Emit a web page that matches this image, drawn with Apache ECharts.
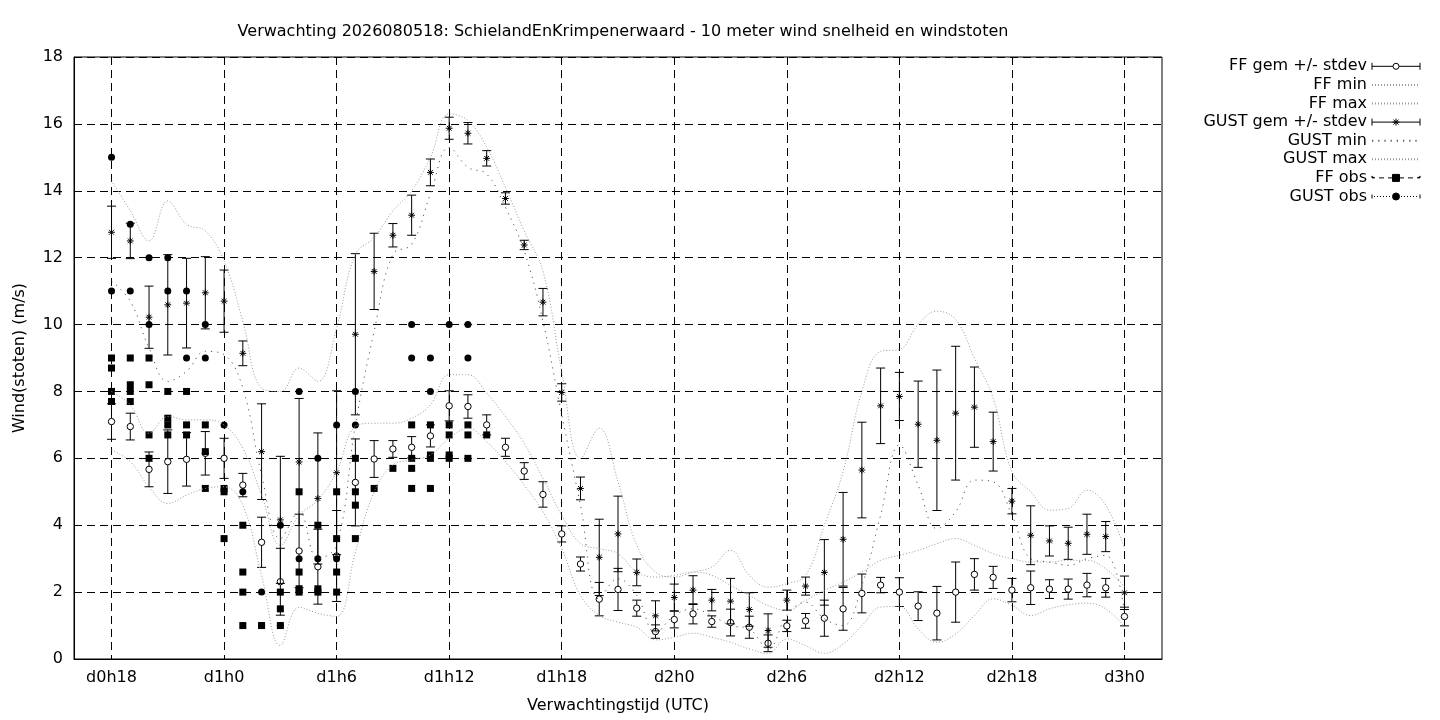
<!DOCTYPE html>
<html>
<head>
<meta charset="utf-8">
<title>Verwachting 2026080518 wind</title>
<script src="https://cdn.jsdelivr.net/npm/echarts@6.0.0/dist/echarts.min.js"></script>
<style>
  html, body { margin: 0; padding: 0; background: #fff; }
  #chart { width: 1440px; height: 720px; }
</style>
</head>
<body>
<div id="chart"></div>
<script>
// verwachtingsuren, geteld vanaf d0h0
const hours = [18, 19, 20, 21, 22, 23, 24, 25, 26, 27, 28, 29, 30, 31, 32, 33, 34, 35, 36, 37,
  38, 39, 40, 41, 42, 43, 44, 45, 46, 47, 48, 49, 50, 51, 52, 53, 54, 55, 56, 57,
  58, 59, 60, 61, 62, 63, 64, 65, 66, 67, 68, 69, 70, 71, 72]

// FF gemiddelde en standaarddeviatie (m/s)
const ffMean = [7.1, 6.95, 5.67, 5.9, 5.97, 6.15, 6.0, 5.2, 3.49, 2.31, 3.23, 2.76, 3.08, 5.28, 5.98, 6.28, 6.33, 6.67, 7.57, 7.55,
  7.0, 6.33, 5.62, 4.92, 3.74, 2.84, 1.79, 2.08, 1.52, 0.82, 1.18, 1.35, 1.12, 1.09, 0.95, 0.47, 0.99, 1.14, 1.22, 1.5,
  1.96, 2.21, 2.0, 1.58, 1.37, 2.0, 2.53, 2.44, 2.06, 2.13, 2.09, 2.09, 2.21, 2.13, 1.27]
const ffStdev = [0.53, 0.4, 0.52, 0.95, 0.8, 0.65, 0.6, 0.35, 0.75, 1.0, 1.1, 1.12, 1.36, 1.3, 0.55, 0.25, 0.32, 0.33, 0.45, 0.35,
  0.3, 0.27, 0.25, 0.38, 0.24, 0.21, 0.5, 0.63, 0.24, 0.2, 0.25, 0.3, 0.17, 0.4, 0.33, 0.25, 0.17, 0.22, 0.54, 0.64,
  0.58, 0.23, 0.43, 0.43, 0.8, 0.9, 0.47, 0.33, 0.35, 0.5, 0.28, 0.3, 0.35, 0.28, 0.28]
const ffMin = [6.25, 5.9, 5.15, 4.65, 4.9, 5.1, 5.15, 4.6, 2.5, 0.4, 1.55, 1.37, 1.27, 3.2, 5.0, 5.8, 5.95, 6.1, 6.6, 6.9,
  6.5, 5.9, 5.2, 4.4, 3.3, 1.9, 1.3, 1.1, 0.95, 0.57, 0.65, 0.77, 0.65, 0.5, 0.3, 0.17, 0.6, 0.4, 0.17, 0.45,
  1.0, 1.55, 1.57, 0.9, 0.5, 0.75, 1.3, 1.8, 1.6, 1.3, 1.5, 1.62, 1.67, 1.5, 0.97]
const ffMax = [8.0, 7.6, 6.75, 7.25, 7.15, 7.15, 7.0, 6.3, 4.9, 3.4, 4.3, 4.75, 5.6, 6.95, 7.05, 7.05, 7.2, 7.6, 8.5, 8.5,
  7.95, 7.25, 6.45, 5.4, 4.3, 3.45, 3.3, 3.15, 2.6, 2.45, 2.5, 2.6, 2.5, 2.2, 1.9, 1.6, 1.45, 1.75, 2.05, 2.3,
  2.6, 2.95, 3.1, 3.25, 3.45, 3.6, 3.4, 3.15, 3.0, 2.9, 2.9, 2.95, 2.95, 2.7, 2.16]

// windstoten
const gustMean = [12.76, 12.5, 10.22, 10.59, 10.64, 10.95, 10.7, 9.14, 6.2, 4.16, 5.89, 4.8, 5.57, 9.71, 11.59, 12.67, 13.27, 14.55, 15.87, 15.72,
  14.97, 13.77, 12.38, 10.67, 7.97, 5.1, 3.04, 3.74, 2.59, 1.29, 1.84, 2.06, 1.76, 1.73, 1.48, 0.85, 1.76, 2.18, 2.59, 3.58,
  5.65, 7.57, 7.85, 7.02, 6.54, 7.35, 7.53, 6.5, 4.72, 3.7, 3.53, 3.46, 3.73, 3.66, 1.98]
const gustStdev = [0.78, 0.53, 0.93, 1.5, 1.34, 1.08, 0.93, 0.37, 1.43, 1.9, 1.9, 1.96, 2.45, 2.41, 1.14, 0.35, 0.6, 0.4, 0.33, 0.32,
  0.23, 0.17, 0.14, 0.41, 0.26, 0.34, 1.14, 1.13, 0.4, 0.45, 0.4, 0.43, 0.32, 0.68, 0.5, 0.5, 0.3, 0.27, 0.98, 1.4,
  1.43, 1.13, 0.72, 1.29, 2.1, 2.0, 1.2, 0.88, 0.38, 0.88, 0.45, 0.48, 0.6, 0.45, 0.5]
const gustMin = [11.3, 10.7, 9.3, 8.3, 8.6, 9.2, 9.1, 8.1, 5.5, 3.6, 4.4, 3.0, 3.4, 7.0, 9.8, 12.1, 12.4, 13.9, 15.3, 14.7,
  14.5, 13.5, 12.2, 10.1, 7.3, 4.6, 1.8, 2.4, 1.9, 0.8, 1.3, 1.5, 1.3, 1.0, 0.9, 0.3, 1.3, 1.7, 1.2, 1.0,
  2.2, 4.3, 6.4, 5.2, 3.9, 4.4, 5.35, 5.3, 4.3, 3.0, 2.9, 2.8, 3.0, 3.1, 1.4]
const gustMax = [14.3, 13.4, 12.5, 13.7, 13.0, 12.8, 11.9, 10.1, 8.1, 8.0, 8.7, 8.3, 9.9, 12.1, 12.6, 13.4, 14.0, 15.0, 16.3, 16.1,
  15.3, 14.1, 12.8, 11.6, 8.6, 6.0, 6.9, 5.3, 3.4, 2.6, 2.45, 2.6, 2.75, 3.25, 2.5, 2.15, 2.25, 2.5, 4.0, 5.6,
  8.0, 9.2, 9.25, 10.0, 10.4, 10.15, 9.0, 7.8, 5.6, 5.0, 4.45, 4.5, 5.05, 4.6, 3.3]

// waarnemingen, meerdere per uur
const obsHours = [18, 19, 20, 21, 22, 23, 24, 25, 26, 27, 28, 29, 30, 31, 32, 33, 34, 35, 36, 37, 38]
const ffObs = [[9, 8.7, 8, 7.7], [9, 8.2, 8, 7.7], [9, 8.2, 6.7, 6], [8, 7.2, 7, 6.7], [8, 7, 6.7], [7, 6.2, 5.1],
  [5.1, 5, 3.6], [4, 2.6, 2, 1], [1], [2, 1.5, 1], [5, 2.6, 2.1, 2], [4, 2.1, 2], [5, 3.6, 2.6, 2], [6, 5, 4.6, 3.6],
  [5.1], [5.7], [7, 6, 5.7, 5.1], [7, 6.1, 6, 5.1], [7, 6.7, 6.1, 6], [7, 6.7, 6], [6.7]]
const gustObs = [[15, 11], [13, 11], [12, 10], [12, 11], [11, 9], [10, 9], [7], [5], [2, 1], [4, 1], [8, 3], [6, 3],
  [7, 3], [8, 7], [], [], [10, 9], [9, 8], [10], [10, 9], []]

const xTicks = [18, 24, 30, 36, 42, 48, 54, 60, 66, 72]

const pairs = (vals) => hours.map((h, i) => [h, vals[i]])
const bars = (mean, sd) => hours.map((h, i) => [h, mean[i], sd[i]])
const obsPairs = (obs) => obsHours.flatMap((h, i) => obs[i].map(v => [h, v]))

function errorBar(marker) {
  return function (params, api) {
    const x = api.value(0)
    const m = api.value(1)
    const s = api.value(2)
    const top = api.coord([x, m + s])
    const bot = api.coord([x, m - s])
    const c = api.coord([x, m])
    const cap = 4.5
    const st = { stroke: '#000', lineWidth: 1 }
    const line = (x1, y1, x2, y2) => ({ type: 'line', shape: { x1, y1, x2, y2 }, style: st })
    const children = [
      line(top[0], top[1], bot[0], bot[1]),
      line(top[0] - cap, top[1], top[0] + cap, top[1]),
      line(bot[0] - cap, bot[1], bot[0] + cap, bot[1])
    ]
    if (marker === 'circle') {
      children.push({ type: 'circle', shape: { cx: c[0], cy: c[1], r: 3.2 }, style: { fill: '#fff', stroke: '#000', lineWidth: 1 } })
    } else {
      const r = 3.4
      const d = 2.4
      children.push(line(c[0], c[1] - r, c[0], c[1] + r))
      children.push(line(c[0] - r, c[1], c[0] + r, c[1]))
      children.push(line(c[0] - d, c[1] - d, c[0] + d, c[1] + d))
      children.push(line(c[0] - d, c[1] + d, c[0] + d, c[1] - d))
    }
    return { type: 'group', children }
  }
}

function dots(x0, x1) {
  let d = ''
  for (let x = x0; x < x1; x += 3) d += 'M' + x + ',3.5L' + (x + 1) + ',3.5'
  return d
}

const iconFF = 'path://M0,0L0,7M0,3.5L21,3.5M27,3.5L48,3.5M48,0L48,7M21,3.5A3,3,0,1,1,27,3.5A3,3,0,1,1,21,3.5Z'
const iconGust = 'path://M0,0L0,7M0,3.5L48,3.5M48,0L48,7M24,0L24,7M20.5,3.5L27.5,3.5M21.5,1L26.5,6M21.5,6L26.5,1'
const iconFFObs = 'path://M0,1.5L0,3.5L3,3.5M7,3.5L12,3.5M16,3.5L20.5,3.5M27.5,3.5L32,3.5M36,3.5L41,3.5M45,3.5L48,3.5L48,1.5M20.5,0L27.5,0L27.5,7L20.5,7Z'
const iconGustObs = 'path://M0,1.5L0,5.5' + dots(2, 20) + dots(29, 47) + 'M48,1.5L48,5.5M20.5,3.5A3.5,3.5,0,1,1,27.5,3.5A3.5,3.5,0,1,1,20.5,3.5Z'

const font = 'DejaVu Sans'
const fs = 16
const lightDots = { color: '#9a9a9a', width: 1, type: [1, 2] }
const darkDots = { color: '#555', width: 1, type: [1.2, 5] }
const noSymbol = { color: 'transparent' }

const chart = echarts.init(document.getElementById('chart'))
chart.setOption({
  animation: false,
  backgroundColor: '#fff',
  textStyle: { fontFamily: font, color: '#000' },
  title: {
    text: 'Verwachting 2026080518: SchielandEnKrimpenerwaard - 10 meter wind snelheid en windstoten',
    left: 618,
    textAlign: 'center',
    top: 19,
    textStyle: { fontFamily: font, fontSize: fs, fontWeight: 'normal', color: '#000' }
  },
  grid: {
    left: 74, right: 278, top: 57, bottom: 61,
    show: true, borderColor: '#000', borderWidth: 1, backgroundColor: 'transparent'
  },
  legend: {
    orient: 'vertical',
    right: 19,
    top: 57,
    padding: 0,
    align: 'right',
    itemWidth: 48,
    itemHeight: 7,
    itemGap: 0,
    selectedMode: false,
    textStyle: { fontFamily: font, fontSize: fs, color: '#000', lineHeight: 18.6 },
    data: [
      { name: 'FF gem +/- stdev', icon: iconFF, itemStyle: { color: '#fff', borderColor: '#000', borderWidth: 1 } },
      { name: 'FF min', itemStyle: noSymbol },
      { name: 'FF max', itemStyle: noSymbol },
      { name: 'GUST gem +/- stdev', icon: iconGust, itemStyle: { color: 'transparent', borderColor: '#000', borderWidth: 1 } },
      { name: 'GUST min', itemStyle: noSymbol },
      { name: 'GUST max', itemStyle: noSymbol },
      { name: 'FF obs', icon: iconFFObs, itemStyle: { color: '#000', borderColor: '#000', borderWidth: 1, opacity: 1 } },
      { name: 'GUST obs', icon: iconGustObs, itemStyle: { color: '#000', borderColor: '#000', borderWidth: 1, opacity: 1 } }
    ]
  },
  xAxis: {
    type: 'value',
    min: 16,
    max: 74,
    name: 'Verwachtingstijd (UTC)',
    nameLocation: 'middle',
    nameGap: 39,
    nameTextStyle: { fontFamily: font, fontSize: fs, color: '#000' },
    axisLine: { lineStyle: { color: '#000', width: 1 } },
    axisTick: { show: false, customValues: xTicks },
    axisLabel: {
      customValues: xTicks,
      margin: 11,
      fontFamily: font, fontSize: fs, color: '#000',
      formatter: (v) => 'd' + Math.floor(v / 24) + 'h' + (v % 24)
    },
    splitLine: { show: true, lineStyle: { color: '#000', width: 1, type: [8, 5] } }
  },
  yAxis: {
    type: 'value',
    min: 0,
    max: 18,
    interval: 2,
    name: 'Wind(stoten) (m/s)',
    nameLocation: 'middle',
    nameGap: 46,
    nameTextStyle: { fontFamily: font, fontSize: fs, color: '#000' },
    axisLine: { show: true, lineStyle: { color: '#000', width: 1 } },
    axisTick: { show: false },
    axisLabel: { margin: 11, fontFamily: font, fontSize: fs, color: '#000' },
    splitLine: { show: true, lineStyle: { color: '#000', width: 1, type: [8, 5] } }
  },
  series: [
    {
      name: 'FF gem +/- stdev', type: 'custom', renderItem: errorBar('circle'),
      itemStyle: { color: '#000' }, encode: { x: 0, y: 1 }, data: bars(ffMean, ffStdev), silent: true
    },
    { name: 'FF min', type: 'line', smooth: 0.4, symbol: 'none', itemStyle: noSymbol, lineStyle: lightDots, data: pairs(ffMin), silent: true },
    { name: 'FF max', type: 'line', smooth: 0.4, symbol: 'none', itemStyle: noSymbol, lineStyle: lightDots, data: pairs(ffMax), silent: true },
    {
      name: 'GUST gem +/- stdev', type: 'custom', renderItem: errorBar('star'),
      itemStyle: { color: '#000' }, encode: { x: 0, y: 1 }, data: bars(gustMean, gustStdev), silent: true
    },
    { name: 'GUST min', type: 'line', smooth: 0.4, symbol: 'none', itemStyle: noSymbol, lineStyle: darkDots, data: pairs(gustMin), silent: true },
    { name: 'GUST max', type: 'line', smooth: 0.4, symbol: 'none', itemStyle: noSymbol, lineStyle: lightDots, data: pairs(gustMax), silent: true },
    {
      name: 'FF obs', type: 'scatter', symbol: 'rect', symbolSize: 7,
      itemStyle: { color: '#000', opacity: 1 }, data: obsPairs(ffObs), silent: true
    },
    {
      name: 'GUST obs', type: 'scatter', symbol: 'circle', symbolSize: 7,
      itemStyle: { color: '#000', opacity: 1 }, data: obsPairs(gustObs), silent: true
    }
  ]
})
</script>
</body>
</html>
